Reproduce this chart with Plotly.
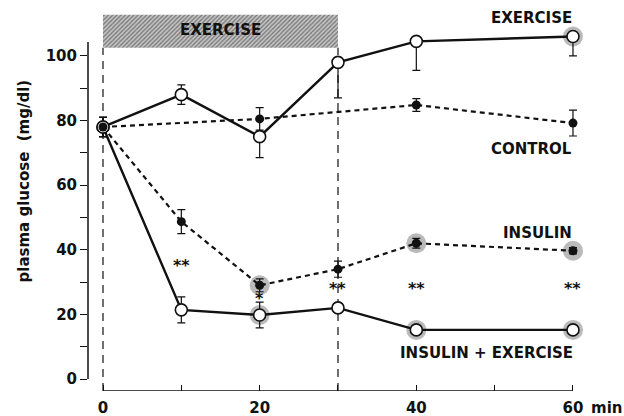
import plotly.graph_objects as go

# ---------------- data ----------------
time_min = [0, 10, 20, 30, 40, 60]

ex_t = [0, 10, 20, 30, 40, 60]
ex_y = [78, 88, 75, 98, 104.5, 106]
ex_err_up = [3, 3, 0, 0, 0, 0]
ex_err_dn = [3, 3, 6.5, 11, 9, 6]

ctl_t = [0, 20, 40, 60]
ctl_y = [78, 80.5, 84.8, 79.2]
ctl_err = [3, 3.5, 2, 4]

ins_t = [0, 10, 20, 30, 40, 60]
ins_y = [78, 48.7, 29, 34, 42, 39.7]
ins_err = [3, 3.7, 2, 2.5, 1.5, 1]

iex_t = [0, 10, 20, 30, 40, 60]
iex_y = [78, 21.4, 19.8, 22, 15.2, 15.2]
iex_err = [3, 4, 4, 1.5, 1, 1]

# points highlighted with a stippled halo
halo_ex_t, halo_ex_y = [60], [106]
halo_ins_t, halo_ins_y = [20, 40, 60], [29, 42, 39.7]
halo_iex_t, halo_iex_y = [20, 40, 60], [19.8, 15.2, 15.2]

# significance marks
sig_t = [10, 20, 30, 40, 60]
sig_y = [35, 25, 28, 28, 28]
sig_txt = ["**", "*", "**", "**", "**"]

# exercise period
exercise_start, exercise_end = 0, 30
bar_bottom, bar_top = 102.5, 112.7

# axes
x_tickvals = [0, 10, 20, 30, 40, 50, 60]
x_ticktext = ["0", "", "20", "", "40", "", "60"]
y_tickvals = [0, 10, 20, 30, 40, 50, 60, 70, 80, 90, 100]
y_ticktext = ["0", "", "20", "", "40", "", "60", "", "80", "", "100"]

x_range = [-1.915, 63.45]
y_range = [-3.71, 114.2]
y_axis_top = 104.3

FONT = "DejaVu Sans"
BLACK = "#111111"

fig = go.Figure()

# hatched exercise bar
fig.add_trace(go.Scatter(
    x=[exercise_start, exercise_end, exercise_end, exercise_start, exercise_start],
    y=[bar_bottom, bar_bottom, bar_top, bar_top, bar_bottom],
    mode="lines", fill="toself", line=dict(width=0, color="rgba(0,0,0,0)"),
    fillcolor="white",
    fillpattern=dict(shape="/", fgcolor="#222222", bgcolor="#c4c4c4", size=3, solidity=0.4),
    hoverinfo="skip", showlegend=False))

# vertical dashed markers of exercise period
for xv in [exercise_start, exercise_end]:
    fig.add_shape(type="line", x0=xv, x1=xv, y0=y_range[0], y1=bar_bottom,
                  line=dict(color=BLACK, width=1.2, dash="8px,6px"), layer="below")

# halos
halo_marker = dict(size=20, color="rgba(140,140,140,0.6)", line=dict(width=0))
for hx, hy in [(halo_ex_t, halo_ex_y), (halo_ins_t, halo_ins_y), (halo_iex_t, halo_iex_y)]:
    fig.add_trace(go.Scatter(x=hx, y=hy, mode="markers", marker=halo_marker,
                             hoverinfo="skip", showlegend=False))

err_style = dict(color=BLACK, thickness=1.2, width=4)

# control
fig.add_trace(go.Scatter(
    x=ctl_t, y=ctl_y, mode="lines+markers", name="CONTROL",
    line=dict(color=BLACK, width=2.2, dash="5px,4px"),
    marker=dict(size=9, color=BLACK),
    error_y=dict(type="data", array=ctl_err, visible=True, **err_style),
    showlegend=False))

# insulin
fig.add_trace(go.Scatter(
    x=ins_t, y=ins_y, mode="lines+markers", name="INSULIN",
    line=dict(color=BLACK, width=2.2, dash="5px,4px"),
    marker=dict(size=9, color=BLACK),
    error_y=dict(type="data", array=ins_err, visible=True, **err_style),
    showlegend=False))

# insulin + exercise
fig.add_trace(go.Scatter(
    x=iex_t, y=iex_y, mode="lines+markers", name="INSULIN + EXERCISE",
    line=dict(color=BLACK, width=2.4),
    marker=dict(size=12, color="white", line=dict(color=BLACK, width=1.6)),
    error_y=dict(type="data", array=iex_err, visible=True, **err_style),
    showlegend=False))

# exercise
fig.add_trace(go.Scatter(
    x=ex_t, y=ex_y, mode="lines+markers", name="EXERCISE",
    line=dict(color=BLACK, width=2.4),
    marker=dict(size=12, color="white", line=dict(color=BLACK, width=1.6)),
    error_y=dict(type="data", array=ex_err_up, arrayminus=ex_err_dn, visible=True, **err_style),
    showlegend=False))

# common starting point: filled dot within the ring
fig.add_trace(go.Scatter(x=[time_min[0]], y=[ctl_y[0]], mode="markers",
                         marker=dict(size=9, color=BLACK), hoverinfo="skip", showlegend=False))

# y axis line (from 0 up to just above 100)
fig.add_shape(type="line", xref="paper", x0=0, x1=0, y0=0, y1=y_axis_top,
              line=dict(color=BLACK, width=1.5))
# x axis line (0 .. 60)
fig.add_shape(type="line", x0=time_min[0], x1=time_min[-1], y0=y_range[0], y1=y_range[0],
              line=dict(color=BLACK, width=1.5))

annotations = []
for t, y, s in zip(sig_t, sig_y, sig_txt):
    annotations.append(dict(x=t, y=y, text="<b>" + s + "</b>", showarrow=False,
                            font=dict(family=FONT, size=16, color=BLACK)))

lab_font = dict(family=FONT, size=15, color=BLACK)
annotations += [
    dict(x=(exercise_start + exercise_end) / 2, y=108, text="<b>EXERCISE</b>", showarrow=False,
         font=lab_font),
    dict(x=60.1, y=111.8, text="<b>EXERCISE</b>", showarrow=False, xanchor="right", font=lab_font),
    dict(x=60.1, y=71.2, text="<b>CONTROL</b>", showarrow=False, xanchor="right", font=lab_font),
    dict(x=60.1, y=45.2, text="<b>INSULIN</b>", showarrow=False, xanchor="right", font=lab_font),
    dict(x=60.3, y=8, text="<b>INSULIN + EXERCISE</b>", showarrow=False, xanchor="right",
         font=lab_font),
    dict(x=62.0, y=y_range[0], yshift=-17, text="<b>min</b>", showarrow=False, xanchor="left",
         font=lab_font),
    dict(xref="paper", yref="paper", x=-0.125, y=0.55, xanchor="center", yanchor="middle",
         text="<b>plasma glucose  (mg/dl)</b>",
         textangle=-90, showarrow=False, font=dict(family=FONT, size=15, color=BLACK)),
]

fig.update_layout(
    width=624, height=416,
    margin=dict(l=88, r=24, t=10, b=25),
    paper_bgcolor="white", plot_bgcolor="white",
    showlegend=False,
    annotations=annotations,
    xaxis=dict(range=x_range, tickvals=x_tickvals, ticktext=["<b>%s</b>" % t if t else "" for t in x_ticktext],
               ticks="inside", ticklen=6, tickwidth=1.3, tickcolor=BLACK,
               showgrid=False, zeroline=False, showline=False, automargin=False,
               ticklabelstandoff=6,
               tickfont=dict(family=FONT, size=15, color=BLACK)),
    yaxis=dict(range=y_range, tickvals=y_tickvals, ticktext=["<b>%s</b>" % t if t else "" for t in y_ticktext],
               ticks="outside", ticklen=7, tickwidth=1.3, tickcolor=BLACK,
               showgrid=False, zeroline=False, showline=False, automargin=False,
               tickfont=dict(family=FONT, size=15, color=BLACK)),
)

fig.write_html("out.html", config={"displayModeBar": False},
               post_script="document.body.style.margin='0';")
